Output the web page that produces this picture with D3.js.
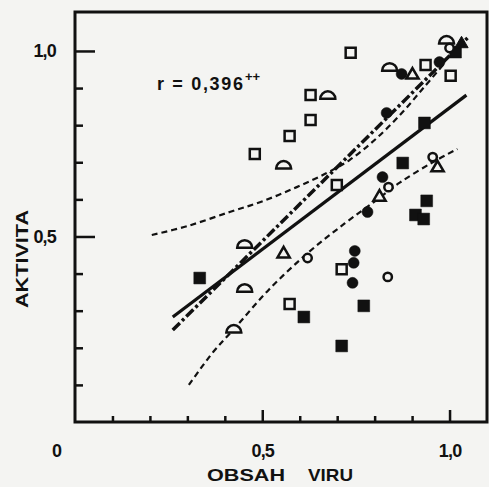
<!DOCTYPE html>
<html>
<head>
<meta charset="utf-8">
<script src="https://cdn.jsdelivr.net/npm/d3@7"></script>
<style>
  body { margin: 0; background: #f4f4f2; }
  svg { display: block; }
  text { font-family: "Liberation Sans", Arial, sans-serif; font-weight: bold; fill: #111; }
</style>
</head>
<body>
<svg id="chart"></svg>
<script>
// values (x = obsah viru, y = aktivita)
const openSquares = [[0.736, 0.995], [0.629, 0.881], [0.629, 0.814], [0.573, 0.771], [0.480, 0.722],
  [0.699, 0.639], [0.936, 0.962], [1.003, 0.933], [0.712, 0.412], [0.573, 0.318]];
const filledSquares = [[0.333, 0.388], [0.933, 0.806], [0.875, 0.698], [0.939, 0.596], [0.909, 0.558],
  [0.931, 0.547], [0.611, 0.283], [0.771, 0.313], [0.712, 0.205], [1.016, 0.997]];
const filledCircles = [[0.872, 0.938], [0.832, 0.833], [0.821, 0.660], [0.781, 0.566], [0.747, 0.461],
  [0.744, 0.429], [0.741, 0.375], [0.973, 0.970]];
const openCircles = [[0.837, 0.633], [0.955, 0.714], [0.621, 0.442], [0.835, 0.391], [1.000, 1.008]];
const openTriangles = [[0.901, 0.935], [0.968, 0.685], [0.813, 0.606], [0.557, 0.453]];
const filledTriangles = [[1.032, 1.019]];
const halfCircles = [[0.840, 0.957], [0.675, 0.881], [0.557, 0.693], [0.453, 0.480], [0.453, 0.361],
  [0.424, 0.251], [0.992, 1.030]];

const regressionLine = [[0.261, 0.283], [1.045, 0.881]];
const dashDotLine = [[0.261, 0.248], [1.048, 1.035]];
const upperBand = [[0.205, 0.504], [0.300, 0.528], [0.413, 0.566], [0.501, 0.595], [0.592, 0.633],
  [0.672, 0.671], [0.733, 0.706], [0.800, 0.760], [0.870, 0.830], [0.930, 0.900], [0.985, 0.965]];
const lowerBand = [[0.304, 0.100], [0.370, 0.190], [0.424, 0.250], [0.517, 0.356], [0.621, 0.455],
  [0.720, 0.535], [0.805, 0.598], [0.867, 0.645], [0.955, 0.700], [1.021, 0.736]];

const majorTicks = [0.5, 1.0];
const minorTicks = [0.1, 0.2, 0.3, 0.4, 0.6, 0.7, 0.8, 0.9];
const rLabel = "r = 0,396";

const width = 489, height = 487;
const margin = { top: 12, right: 2, bottom: 65, left: 75 };
const w = width - margin.left - margin.right;
const h = height - margin.top - margin.bottom;

const svg = d3.select("#chart").attr("width", width).attr("height", height);
const g = svg.append("g").attr("transform", `translate(${margin.left},${margin.top})`);

const x = d3.scaleLinear().domain([0, 1.1]).range([0, w]);
const y = d3.scaleLinear().domain([0, 1.105]).range([h, 0]);
const fmt = d => d3.format(".1f")(d).replace(".", ",");

// ticks point into the plot
g.append("g").attr("transform", `translate(0,${h})`)
  .call(d3.axisBottom(x).tickValues(minorTicks).tickSizeInner(-6).tickSizeOuter(0).tickFormat(""));
g.append("g").attr("transform", `translate(0,${h})`)
  .call(d3.axisBottom(x).tickValues(majorTicks).tickSizeInner(-12).tickSizeOuter(0).tickPadding(22).tickFormat(fmt));
g.append("g")
  .call(d3.axisLeft(y).tickValues(minorTicks).tickSizeInner(-8).tickSizeOuter(0).tickFormat(""));
g.append("g")
  .call(d3.axisLeft(y).tickValues(majorTicks).tickSizeInner(-20).tickSizeOuter(0).tickPadding(19).tickFormat(fmt));

g.selectAll(".domain").remove();
g.selectAll(".tick line").attr("stroke", "#111").attr("stroke-width", 2.5);
g.selectAll(".tick text").attr("font-size", 18).attr("fill", "#111")
  .style("font-family", "'Liberation Sans', Arial, sans-serif").style("font-weight", "bold")
  .attr("letter-spacing", -0.8);

// frame
g.append("rect").attr("width", w).attr("height", h)
  .attr("fill", "none").attr("stroke", "#111").attr("stroke-width", 3);

// lines
const line = d3.line().x(d => x(d[0])).y(d => y(d[1]));
const smooth = d3.line().x(d => x(d[0])).y(d => y(d[1])).curve(d3.curveCatmullRom);

g.append("path").datum(regressionLine).attr("d", line)
  .attr("fill", "none").attr("stroke", "#111").attr("stroke-width", 3.2);
g.append("path").datum(dashDotLine).attr("d", line)
  .attr("fill", "none").attr("stroke", "#111").attr("stroke-width", 3.5)
  .attr("stroke-dasharray", "10,3,3,3");
[upperBand, lowerBand].forEach(band => {
  g.append("path").datum(band).attr("d", smooth)
    .attr("fill", "none").attr("stroke", "#111").attr("stroke-width", 2.2)
    .attr("stroke-dasharray", "6,4");
});

// markers
const sym = (type, size) => d3.symbol().type(type).size(size)();
function drawMarks(data, path, filled, sw) {
  g.selectAll(null).data(data).join("path")
    .attr("transform", d => `translate(${x(d[0])},${y(d[1])})`)
    .attr("d", path)
    .attr("fill", filled ? "#111" : "#f4f4f2")
    .attr("stroke", "#111")
    .attr("stroke-width", sw);
}
const r = 7.5;
const halfPath = `M${-r},${r / 2}A${r},${r} 0 0 1 ${r},${r / 2}Z`;

drawMarks(halfCircles, halfPath, false, 2.5);
drawMarks(openSquares, sym(d3.symbolSquare, 100), false, 2.5);
drawMarks(filledSquares, sym(d3.symbolSquare, 140), true, 0.5);
drawMarks(filledCircles, sym(d3.symbolCircle, 95), true, 0.5);
drawMarks(openCircles, sym(d3.symbolCircle, 55), false, 2.5);
drawMarks(openTriangles, sym(d3.symbolTriangle, 65), false, 2.5);
drawMarks(filledTriangles, sym(d3.symbolTriangle, 75), true, 1);

// correlation label
svg.append("text").attr("x", 157).attr("y", 90).attr("font-size", 18)
  .attr("textLength", 86).attr("lengthAdjust", "spacing").attr("xml:space", "preserve")
  .text(rLabel);
svg.append("text").attr("x", 245).attr("y", 81).attr("font-size", 13).text("++");

// axis titles
svg.append("text").attr("x", 57).attr("y", 457).attr("text-anchor", "middle")
  .attr("font-size", 18).text("0");
svg.append("text").attr("x", 207).attr("y", 481).attr("font-size", 17)
  .attr("textLength", 78).attr("lengthAdjust", "spacingAndGlyphs").text("OBSAH");
svg.append("text").attr("x", 308).attr("y", 481).attr("font-size", 17)
  .attr("textLength", 45).attr("lengthAdjust", "spacingAndGlyphs").text("VIRU");
svg.append("text").attr("transform", "translate(28,259) rotate(-90)").attr("text-anchor", "middle")
  .attr("font-size", 17).attr("textLength", 98).attr("lengthAdjust", "spacingAndGlyphs").text("AKTIVITA");
</script>
</body>
</html>
